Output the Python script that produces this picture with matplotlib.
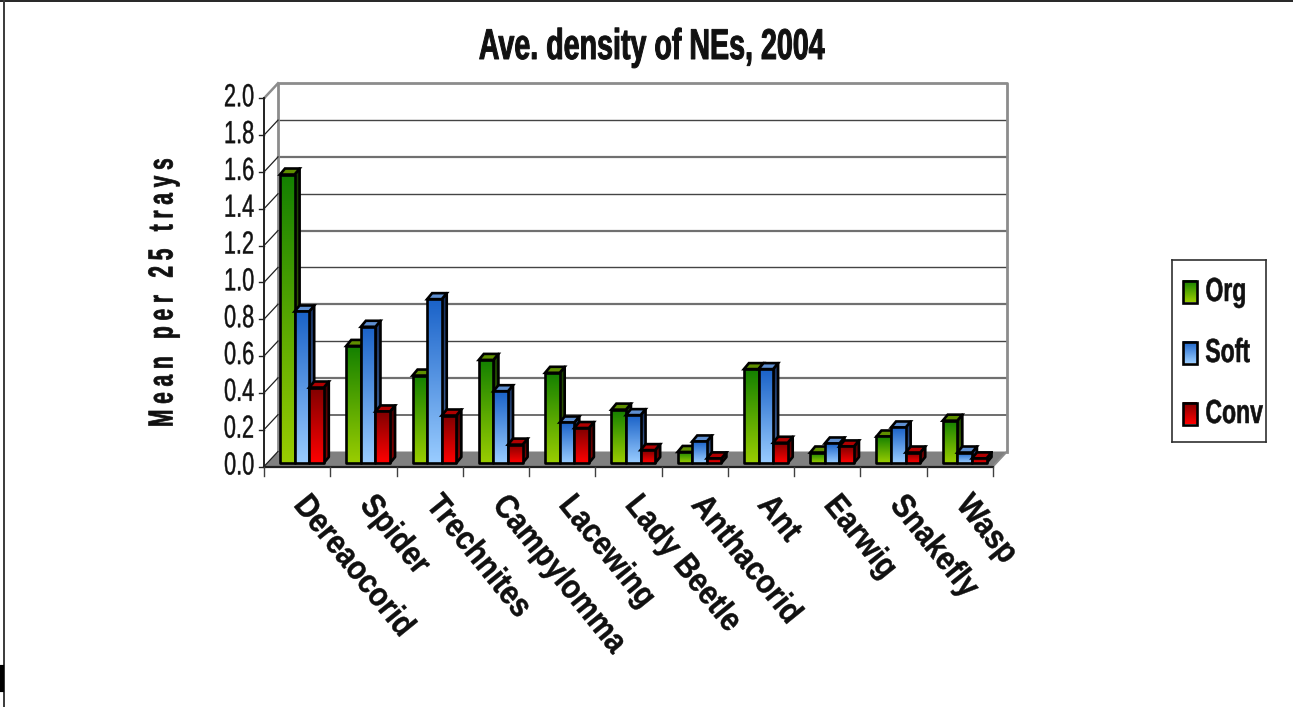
# -*- coding: utf-8 -*-
import numpy as np
import matplotlib
matplotlib.use("Agg")
import matplotlib.pyplot as plt
from matplotlib.patches import Polygon, Rectangle
from matplotlib.lines import Line2D
from matplotlib.colors import LinearSegmentedColormap
from matplotlib.patheffects import AbstractPathEffect
from matplotlib.transforms import Affine2D

# Mean natural enemies per 25 trays
categories = ["Dereaocorid", "Spider", "Trechnites", "Campylomma", "Lacewing", "Lady Beetle",
              "Anthacorid", "Ant", "Earwig", "Snakefly", "Wasp"]
org = [1.567, 0.636, 0.475, 0.56, 0.49, 0.29, 0.06, 0.51, 0.057, 0.144, 0.23]
soft = [0.823, 0.74, 0.89, 0.39, 0.22, 0.26, 0.117, 0.51, 0.106, 0.193, 0.057]
conv = [0.41, 0.28, 0.258, 0.10, 0.19, 0.07, 0.025, 0.11, 0.09, 0.057, 0.025]
series_names = ["Org", "Soft", "Conv"]
yticks = [0.0, 0.2, 0.4, 0.6, 0.8, 1.0, 1.2, 1.4, 1.6, 1.8, 2.0]

# (front top, front bottom, side top, side bottom, top face)
palette = [
    ("#138000", "#9acd00", "#154000", "#4a6a00", "#5f8f00"),
    ("#1a62c8", "#99ccff", "#16305f", "#4a6fa8", "#5f8fd0"),
    ("#800000", "#ff0000", "#400000", "#900000", "#b00000"),
]

W, H = 1293, 707
plt.rcParams["font.family"] = ["Liberation Sans", "DejaVu Sans"]


class Squeeze(AbstractPathEffect):
    # condensed lettering: narrows the glyph outlines along the text direction
    def __init__(self, sx, pivot=0.5, stroke=0.0):
        super().__init__()
        self.sx, self.pivot, self.stroke = sx, pivot, stroke

    def draw_path(self, renderer, gc, tpath, affine, rgbFace=None):
        ext = tpath.get_extents()
        px = ext.x0 + self.pivot * ext.width
        aff = Affine2D().translate(-px, 0).scale(self.sx, 1).translate(px, 0) + affine
        gc0 = renderer.new_gc()
        gc0.copy_properties(gc)
        gc0.set_linewidth(self.stroke)
        if self.stroke:
            gc0.set_foreground(rgbFace)
        renderer.draw_path(gc0, tpath, aff, rgbFace)
        gc0.restore()


fig = plt.figure(figsize=(W / 100, H / 100), dpi=100)
fig.patch.set_facecolor("white")


def px_axes(x0, y0, x1, y1):
    return fig.add_axes([x0 / W, 1 - y1 / H, (x1 - x0) / W, (y1 - y0) / H])


ax = px_axes(264, 98.3, 993, 466.5)
ax.axis("off")
n = len(categories)
cat_px = 729 / n
val_px = 368.2 / 2.0

# depth of the walls and of each bar, in data units
wall_dx, wall_dy = 14 / cat_px, 15 / val_px
bar_dx, bar_dy = 5 / cat_px, 6 / val_px
base = 3.5 / val_px
bar_w = 14.6 / cat_px
group_off = 16 / cat_px


def gradient(poly_xy, top_c, bot_c, y0, y1, z):
    # vertical gradient clipped to a polygon, with a black outline over it
    cmap = LinearSegmentedColormap.from_list("g", [top_c, bot_c])
    xs = [p[0] for p in poly_xy]
    im = ax.imshow(np.linspace(0, 1, 128).reshape(-1, 1), cmap=cmap, aspect="auto",
                   extent=(min(xs), max(xs), y0, y1), zorder=z, interpolation="bilinear")
    outline = Polygon(poly_xy, closed=True, fc="none", ec="black", lw=1.9, zorder=z + 0.1,
                      joinstyle="round")
    ax.add_patch(outline)
    im.set_clip_path(outline)


# floor and walls
ax.add_patch(Polygon([(0, 0), (n, 0), (n + wall_dx, wall_dy), (wall_dx, wall_dy)],
                     closed=True, fc="#808080", ec="none", zorder=1, clip_on=False))
for i, t in enumerate(yticks[1:-1]):
    color, lw = ("#444444", 1.0) if i % 2 == 0 else ("#707070", 1.6)
    if t == 0.2:
        color, lw = "#555555", 1.2
    ax.plot([wall_dx, n + wall_dx], [t + wall_dy] * 2, color=color, lw=lw, zorder=1, clip_on=False)
ax.plot([wall_dx, wall_dx, n + wall_dx, n + wall_dx], [wall_dy, 2 + wall_dy, 2 + wall_dy, wall_dy],
        color="#8c8c8c", lw=2.0, zorder=1.2, clip_on=False)
ax.plot([n, n + wall_dx], [0, wall_dy], color="#8c8c8c", lw=1.4, zorder=1.2, clip_on=False)
ax.plot([0, wall_dx], [2, 2 + wall_dy], color="#8c8c8c", lw=1.8, zorder=1.2, clip_on=False)

# left and bottom axes with the diagonal wall ticks
ax.plot([0, 0], [0, 2], color="#202020", lw=1.4, zorder=2, clip_on=False)
ax.plot([0, n], [0, 0], color="#202020", lw=1.6, zorder=2, clip_on=False)
for t in yticks:
    ax.plot([-5 / cat_px, 0], [t, t], color="#202020", lw=1.0, zorder=2, clip_on=False)
    if t < 2.0:
        ax.plot([0, wall_dx], [t, t + wall_dy], color="#202020", lw=0.9, zorder=1.5, clip_on=False)
    ax.text(-9.5 / cat_px, t, f"{t:.1f}", ha="right", va="center", fontsize=23, color="#111111",
            path_effects=[Squeeze(0.68, pivot=1.0, stroke=0.3)])
for i in range(n + 1):
    ax.plot([i, i], [0, -9.5 / val_px], color="#404040", lw=1.0, zorder=2, clip_on=False)

# bars, drawn left to right so each covers the side of the previous one
z = 3
for i in range(n):
    for s, vals in enumerate([org, soft, conv]):
        c = palette[s]
        x0 = i + group_off + s * bar_w
        x1 = x0 + bar_w
        v = vals[i]
        top = base + v
        gradient([(x1, base), (x1 + bar_dx, base + bar_dy), (x1 + bar_dx, top + bar_dy), (x1, top)],
                 c[2], c[3], base, top + bar_dy, z)
        ax.add_patch(Polygon([(x0, top), (x1, top), (x1 + bar_dx, top + bar_dy), (x0 + bar_dx, top + bar_dy)],
                             closed=True, fc=c[4], ec="black", lw=1.9, zorder=z + 0.2))
        gradient([(x0, base), (x1, base), (x1, top), (x0, top)], c[0], c[1], base, top, z + 0.3)
        z += 1

ax.set_xlim(0, n)
ax.set_ylim(0, 2)

# category labels
for i, name in enumerate(categories):
    ax.annotate(name, xy=(i + 0.5, 0), xytext=(1.5, -24), textcoords="offset points",
                rotation=-51, rotation_mode="anchor", ha="left", va="center",
                fontsize=24, fontweight="bold", color="#111111", annotation_clip=False,
                path_effects=[Squeeze(0.88, pivot=0.0, stroke=0.3)])

fig.text(651 / W, 1 - 59 / H, "Ave. density of NEs, 2004", ha="center", va="baseline",
         fontsize=31, fontweight="bold", color="#111111",
         path_effects=[Squeeze(0.665, stroke=0.7)])
fig.text(163 / W, 1 - 293 / H, "M e a n   p e r   2 5   t r a y s", rotation=90, ha="center", va="center",
         fontsize=25, fontweight="bold", color="#111111",
         path_effects=[Squeeze(0.6, stroke=0.5)])

# legend box with gradient swatches
lg = px_axes(1172, 260, 1266, 442)
lg.set_xticks([])
lg.set_yticks([])
for sp in lg.spines.values():
    sp.set_color("#303030")
    sp.set_linewidth(1.2)
for s, (name, cy) in enumerate(zip(series_names, [291.5, 352.5, 413.5])):
    cmap = LinearSegmentedColormap.from_list("g", [palette[s][0], palette[s][1]])
    lg.imshow(np.linspace(0, 1, 64).reshape(-1, 1), cmap=cmap, aspect="auto",
              extent=(1182.5, 1196.5, cy + 11, cy - 11), origin="upper")
    lg.add_patch(Rectangle((1182.5, cy - 11), 14, 22, fc="none", ec="black", lw=1.9))
    lg.text(1205, cy + 1, name, ha="left", va="center", fontsize=24, fontweight="bold", color="#111111",
            path_effects=[Squeeze(0.69, pivot=0.0, stroke=0.4)])
lg.set_xlim(1172, 1266)
lg.set_ylim(442, 260)

# page border remnants
for xs, ys, col, lw in [((0, W), (0.5, 0.5), "black", 1.2),
                        ((3.5, 3.5), (0, H), "#3a3a3a", 1.4),
                        ((1.5, 1.5), (667, 690), "black", 3.0)]:
    fig.add_artist(Line2D([x / W for x in xs], [1 - y / H for y in ys], color=col, lw=lw))

fig.savefig("out.png", dpi=100, facecolor="white")
